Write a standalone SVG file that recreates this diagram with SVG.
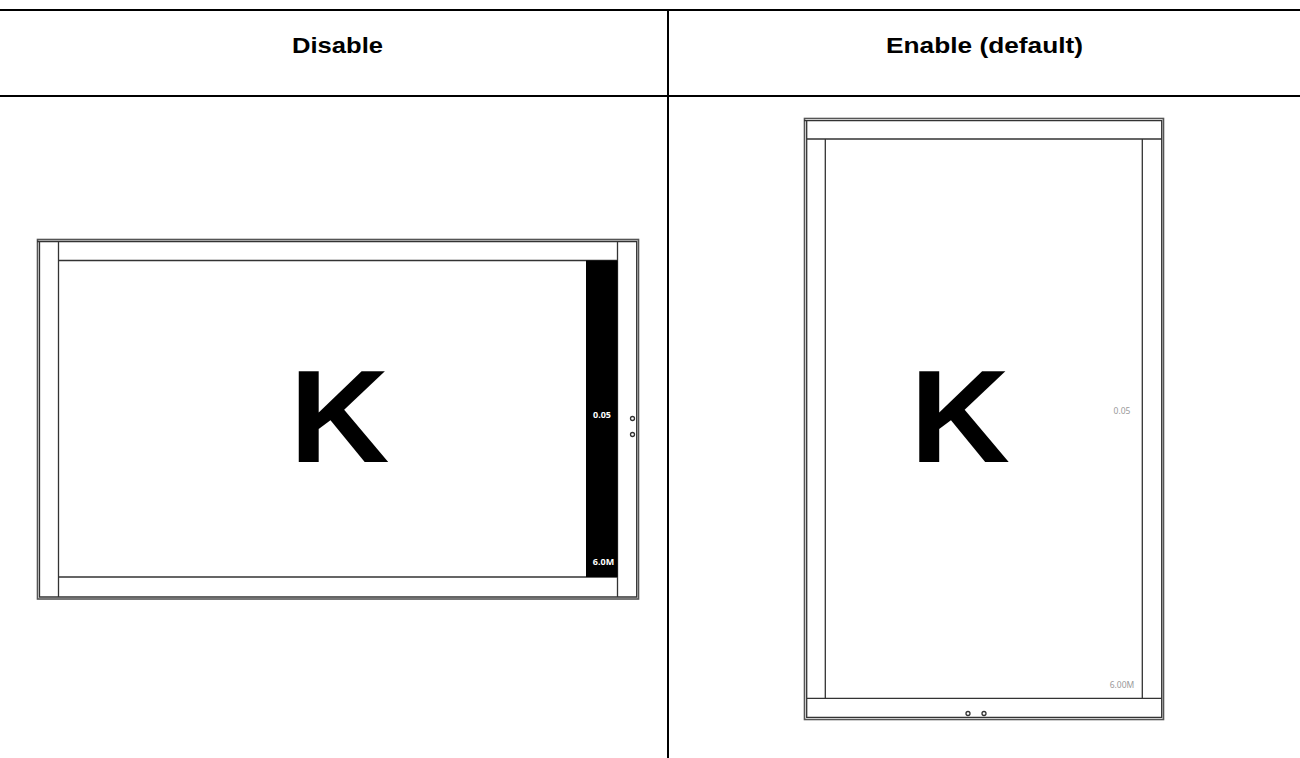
<svg xmlns="http://www.w3.org/2000/svg" width="1300" height="758" viewBox="0 0 1300 758">
<style>
.rule{stroke:#000;stroke-width:2;fill:none}
.thick{stroke:#555;stroke-width:1.6;fill:none}
.thin{stroke:#333;stroke-width:1.3;fill:none}
.hole{stroke:#333;stroke-width:1.3;fill:#fff}
.head{font:bold 22px "Liberation Sans",Arial,sans-serif;fill:#000}
.k{font:bold 132px "Liberation Sans",Arial,sans-serif;fill:#000}
.small{font:bold 9px "Noto Sans",sans-serif;text-anchor:middle}
.grey{font:8.5px "Noto Sans",sans-serif;fill:#9a9a9a;text-anchor:middle}
</style>
<rect width="1300" height="758" fill="#fff"/>
<g id="table">
<path class="rule" d="M0 10H1300M0 96H1300M668 9V758"/>
<text class="head" x="292" y="53" textLength="91" lengthAdjust="spacingAndGlyphs">Disable</text>
<text class="head" x="886" y="53" textLength="197" lengthAdjust="spacingAndGlyphs">Enable (default)</text>
</g>
<g id="landscape-panel">
<rect class="thick" x="37.5" y="239.5" width="601" height="359.5"/>
<path class="thin" d="M39.5 241.5V597H636.7V241.5H37M58.5 241.5V597M617.5 241.5V597M58.5 260.5H617.5M58.5 577H617.5"/>
<rect x="586" y="260.5" width="31.5" height="316.5" fill="#000"/>
<text class="k" x="289.5" y="462" textLength="100" lengthAdjust="spacingAndGlyphs">K</text>
<text class="small" x="602" y="418" fill="#fff">0.05</text>
<text class="small" x="603.5" y="565" fill="#fff">6.0M</text>
<circle class="hole" cx="632.5" cy="418.5" r="2"/>
<circle class="hole" cx="632.5" cy="434.5" r="2"/>
</g>
<g id="portrait-panel">
<rect class="thick" x="804.5" y="118.5" width="359" height="601"/>
<path class="thin" d="M806.7 120.7V717.3H1161.7V120.7H804M806.7 139H1161.7M806.7 698.3H1161.7M825.3 139V698.3M1142.3 139V698.3"/>
<text class="k" x="910" y="462" textLength="100" lengthAdjust="spacingAndGlyphs">K</text>
<text class="grey" x="1122" y="414">0.05</text>
<text class="grey" x="1122" y="688">6.00M</text>
<circle class="hole" cx="968" cy="713.5" r="2"/>
<circle class="hole" cx="984" cy="713.5" r="2"/>
</g>
</svg>
